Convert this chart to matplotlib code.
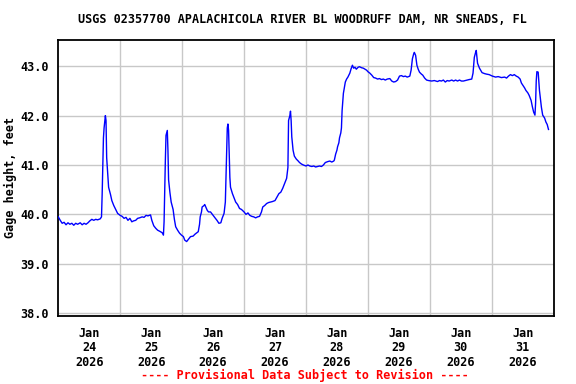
import matplotlib
matplotlib.use("Agg")
import matplotlib.pyplot as plt
from matplotlib.ticker import FixedLocator

# hours since 2026-01-24 00:00 and gage height (feet)
hours = [0, 0.75, 1.5, 2.25, 3, 3.75, 4.5, 5.25, 6, 6.75, 7.5, 8.5, 9.25, 10, 10.75,
         11.5, 12.25, 13, 13.75, 14.5, 15.25, 16.25, 16.75, 17, 17.5, 17.75, 18.25,
         18.5, 18.75, 19.25, 19.5, 20.25, 20.75, 21.5, 22.25, 23, 24, 24.75, 25.5,
         26.25, 27, 27.75, 28.5, 29.25, 30, 30.75, 31.5, 32.5, 33.25, 34, 34.75,
         35.75, 36.25, 37, 37.75, 38.5, 39.25, 40.25, 40.75, 41, 41.5, 41.75, 42.25,
         42.5, 42.75, 43.25, 43.75, 44.5, 45, 45.5, 46.25, 47, 47.75, 48.5, 49,
         49.75, 50.5, 51.25, 52.25, 53, 53.75, 54.25, 54.75, 55, 55.5, 55.75, 56.5,
         56.75, 57.25, 57.75, 58.25, 59, 60, 60.75, 61.5, 62.25, 63, 63.5, 64.25,
         64.75, 65, 65.5, 65.75, 66, 66.5, 66.75, 67.5, 68, 68.75, 69.5, 70.25, 71,
         72, 72.75, 73.5, 74.25, 75, 75.75, 76.5, 77.25, 78, 78.75, 79.25, 80,
         80.75, 81.5, 82.25, 83, 84, 84.75, 85.5, 86.25, 87, 87.75, 88.5, 89, 89.25,
         89.75, 90, 90.25, 90.5, 91, 91.5, 92.25, 93, 93.5, 94.25, 95, 96, 96.75,
         97.5, 98.25, 99, 99.75, 100.5, 101.25, 102, 102.75, 103.5, 104.5, 105.25,
         106, 106.75, 107, 107.5, 108, 108.25, 108.75, 109, 109.5, 109.75, 110,
         110.5, 111.25, 111.75, 112.25, 113, 113.5, 114, 114.5, 115, 115.5, 116.25,
         116.75, 117.5, 118.25, 119.5, 120, 120.75, 121.5, 122.25, 123, 123.75,
         124.5, 125.25, 126, 126.75, 127.5, 128.5, 129.25, 130, 130.75, 131.5,
         132.25, 133, 133.75, 134.5, 135.25, 136.25, 136.75, 137.25, 137.75, 138,
         138.5, 139, 139.5, 140, 140.75, 141.25, 142, 142.75, 143.5, 144.75, 145.75,
         147, 147.75, 148.5, 149.25, 150, 150.75, 151.5, 152.5, 153.25, 154, 154.75,
         155.5, 156.25, 157, 157.75, 158.5, 159.25, 160.25, 160.75, 161.25, 161.75,
         162, 162.5, 163.25, 164.25, 165.25, 166, 167, 168.25, 169.5, 170.5, 171.75,
         173, 173.75, 174.5, 175.25, 176, 176.75, 177.5, 178.25, 179, 179.5, 180,
         180.75, 181.25, 182, 182.5, 183.25, 183.75, 184.25, 184.75, 185, 185.25,
         185.5, 186, 186.5, 187.25, 187.75, 188.5, 189, 189.5, 190]
gage = [39.95, 39.88, 39.82, 39.84, 39.79, 39.83, 39.80, 39.82, 39.78, 39.82, 39.80,
        39.83, 39.79, 39.82, 39.80, 39.83, 39.87, 39.90, 39.88, 39.90, 39.89, 39.91,
        39.95, 40.40, 41.55, 41.75, 42.00, 41.90, 41.15, 40.75, 40.55, 40.40, 40.28,
        40.18, 40.10, 40.02, 39.98, 39.96, 39.92, 39.94, 39.88, 39.92, 39.85, 39.87,
        39.88, 39.92, 39.93, 39.95, 39.94, 39.98, 39.97, 39.99, 39.88, 39.77, 39.72,
        39.68, 39.66, 39.63, 39.58, 39.85, 41.10, 41.60, 41.70, 41.30, 40.70, 40.45,
        40.25, 40.10, 39.90, 39.75, 39.68, 39.62, 39.58, 39.55, 39.48, 39.45, 39.50,
        39.55, 39.56, 39.60, 39.63, 39.65, 39.80, 39.95, 40.05, 40.15, 40.18, 40.20,
        40.14, 40.08, 40.05, 40.05, 39.98, 39.93, 39.88, 39.82, 39.83, 39.92, 40.02,
        40.25, 40.75, 41.75, 41.83, 41.70, 40.75, 40.55, 40.42, 40.35, 40.25, 40.20,
        40.12, 40.10, 40.05, 40.00, 40.03, 39.98, 39.96, 39.95, 39.93, 39.95, 39.96,
        40.05, 40.15, 40.18, 40.22, 40.24, 40.25, 40.26, 40.28, 40.35, 40.42, 40.45,
        40.53, 40.63, 40.73, 40.95, 41.90, 42.00, 42.09, 41.90, 41.57, 41.30, 41.18,
        41.12, 41.08, 41.05, 41.02, 41.00, 40.98, 41.00, 40.98, 40.97, 40.98, 40.96,
        40.97, 40.98, 40.97, 41.00, 41.05, 41.07, 41.08, 41.06, 41.08, 41.10, 41.22,
        41.30, 41.37, 41.45, 41.55, 41.65, 41.75, 42.10, 42.45, 42.68, 42.74, 42.78,
        42.86, 42.95, 43.02, 42.96, 42.98, 42.94, 42.98, 42.99, 42.97, 42.96, 42.92,
        42.89, 42.86, 42.82, 42.77, 42.76, 42.74, 42.75, 42.73, 42.74, 42.72, 42.74,
        42.75, 42.70, 42.68, 42.69, 42.72, 42.80, 42.81, 42.79, 42.80, 42.78, 42.80,
        42.92, 43.15, 43.25, 43.28, 43.22, 43.02, 42.94, 42.88, 42.84, 42.82, 42.76,
        42.72, 42.71, 42.70, 42.71, 42.69, 42.71, 42.70, 42.72, 42.68, 42.71, 42.70,
        42.72, 42.70, 42.72, 42.70, 42.72, 42.70, 42.70, 42.71, 42.72, 42.73, 42.74,
        42.86, 43.18, 43.28, 43.32, 43.06, 42.96, 42.87, 42.85, 42.84, 42.83, 42.80,
        42.78, 42.79, 42.77, 42.78, 42.76, 42.80, 42.83, 42.81, 42.83, 42.80, 42.78,
        42.74, 42.66, 42.62, 42.56, 42.51, 42.46, 42.41, 42.31, 42.18, 42.07, 42.01,
        42.25, 42.70, 42.89, 42.88, 42.51, 42.17, 42.01, 41.95, 41.87, 41.82, 41.72]

day_labels = ["Jan\n24\n2026", "Jan\n25\n2026", "Jan\n26\n2026", "Jan\n27\n2026",
              "Jan\n28\n2026", "Jan\n29\n2026", "Jan\n30\n2026", "Jan\n31\n2026"]
y_ticks = [38.0, 39.0, 40.0, 41.0, 42.0, 43.0]

mono = {"family": "DejaVu Sans Mono", "weight": "bold", "size": 8.5}

fig = plt.figure(figsize=(5.76, 3.84), dpi=100)
ax = fig.add_axes([0.1012, 0.178, 0.860, 0.719])

ax.plot(hours, gage, color="#0000ff", linewidth=1.0, zorder=3)

ax.set_xlim(0, 192)
ax.set_ylim(37.95, 43.54)

# labels at noon, grid lines at midnight
ax.xaxis.set_major_locator(FixedLocator([12 + 24 * i for i in range(8)]))
ax.xaxis.set_minor_locator(FixedLocator([24 * i for i in range(1, 8)]))
ax.set_xticklabels(day_labels, **mono, linespacing=1.15)
ax.set_yticks(y_ticks)
ax.set_yticklabels(["%.1f" % v for v in y_ticks], **mono)
ax.tick_params(which="both", length=0, pad=8)
ax.tick_params(axis="y", pad=7)

ax.grid(which="minor", axis="x", color="#c8c8c8", linewidth=1)
ax.grid(which="major", axis="y", color="#c8c8c8", linewidth=1)
ax.grid(which="major", axis="x", visible=False)
ax.set_axisbelow(True)

for s in ax.spines.values():
    s.set_linewidth(1.3)
    s.set_color("black")

ax.set_ylabel("Gage height, feet", **mono, labelpad=2)
fig.text(0.525, 0.95, "USGS 02357700 APALACHICOLA RIVER BL WOODRUFF DAM, NR SNEADS, FL",
         ha="center", va="center", **mono)
fig.text(0.53, 0.022, "---- Provisional Data Subject to Revision ----",
         ha="center", va="center", color="red", **mono)

fig.savefig("out.png", dpi=100)
